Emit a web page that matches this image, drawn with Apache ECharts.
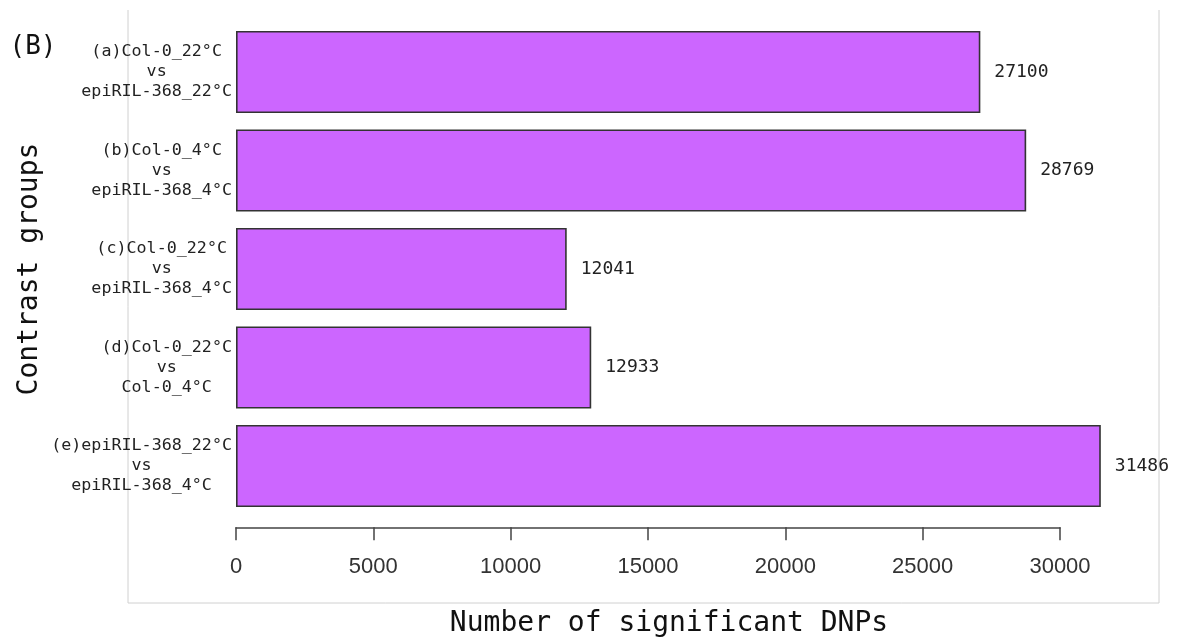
<!DOCTYPE html>
<html>
<head>
<meta charset="utf-8">
<script src="https://cdn.jsdelivr.net/npm/echarts@6/dist/echarts.min.js"></script>
<style>
  html, body { margin: 0; padding: 0; background: #fff; }
  #chart { width: 1180px; height: 643px; }
</style>
</head>
<body>
<div id="chart"></div>
<script>
// contrast groups, top to bottom
const groupNames = [
  ['(a)Col-0_22°C', 'vs', 'epiRIL-368_22°C'],
  ['(b)Col-0_4°C', 'vs', 'epiRIL-368_4°C'],
  ['(c)Col-0_22°C', 'vs', 'epiRIL-368_4°C'],
  ['(d)Col-0_22°C', 'vs', 'Col-0_4°C'],
  ['(e)epiRIL-368_22°C', 'vs', 'epiRIL-368_4°C']
];
const dnpCounts = [27100, 28769, 12041, 12933, 31486];
const xMin = 0;
const xMax = 30000;
const xStep = 5000;

const categories = groupNames.map(lines => lines.join('\n'));
const mono = '"DejaVu Sans Mono", monospace';

const chart = echarts.init(document.getElementById('chart'));

chart.setOption({
  backgroundColor: '#fff',
  animation: false,
  grid: { left: 236, width: 824, top: 22.75, bottom: 127.75 },
  xAxis: {
    type: 'value',
    min: xMin,
    max: xMax,
    interval: xStep,
    offset: 12,
    splitLine: { show: false },
    axisLine: { show: true, lineStyle: { color: '#444', width: 1.5 } },
    axisTick: { show: true, length: 13, lineStyle: { color: '#444', width: 1.5 } },
    axisLabel: {
      margin: 29,
      formatter: v => String(v),
      fontFamily: '"Liberation Sans", Arial, sans-serif',
      fontSize: 22,
      color: '#333'
    }
  },
  yAxis: {
    type: 'category',
    inverse: true,
    data: categories,
    axisLine: { show: false },
    axisTick: { show: false },
    axisLabel: {
      margin: 4,
      align: 'right',
      formatter: (v) => v.split('\n').map(l => '{c|' + l + '}').join('\n'),
      rich: {
        c: { align: 'center', fontFamily: mono, fontSize: 16.7, lineHeight: 20, color: '#222' }
      }
    }
  },
  series: [{
    type: 'bar',
    data: dnpCounts,
    clip: false,
    barCategoryGap: '16.5%',
    itemStyle: { color: '#CC66FF', borderColor: '#333', borderWidth: 1.6 },
    label: {
      show: true,
      position: 'right',
      distance: 14,
      fontFamily: mono,
      fontSize: 18,
      color: '#222'
    }
  }],
  graphic: [
    {
      type: 'polyline',
      silent: true,
      shape: { points: [[128, 10], [128, 603], [1159, 603], [1159, 10]] },
      style: { stroke: '#d0d0d0', lineWidth: 1, fill: null }
    },
    {
      type: 'text',
      x: 33, y: 47,
      style: { text: '(B)', font: '26px ' + mono, fill: '#111', textAlign: 'center', textVerticalAlign: 'middle' }
    },
    {
      type: 'text',
      x: 30, y: 269,
      rotation: Math.PI / 2,
      style: { text: 'Contrast groups', font: '28px ' + mono, fill: '#111', textAlign: 'center', textVerticalAlign: 'middle' }
    },
    {
      type: 'text',
      x: 669, y: 624,
      style: { text: 'Number of significant DNPs', font: '28px ' + mono, fill: '#111', textAlign: 'center', textVerticalAlign: 'middle' }
    }
  ]
});
</script>
</body>
</html>
